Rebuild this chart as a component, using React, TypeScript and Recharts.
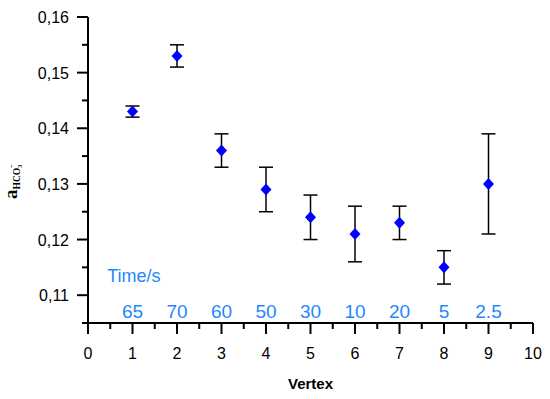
import React from "react";
import { ScatterChart, Scatter, XAxis, YAxis, ErrorBar } from "recharts";

const vertex = [1, 2, 3, 4, 5, 6, 7, 8, 9];
const aValues = [0.143, 0.153, 0.136, 0.129, 0.124, 0.121, 0.123, 0.115, 0.13];
const aErrors = [0.001, 0.002, 0.003, 0.004, 0.004, 0.005, 0.003, 0.003, 0.009];
const timeLabels = ["65", "70", "60", "50", "30", "10", "20", "5", "2.5"];
const timeLabelY = 0.1071;
const timeTitle = "Time/s";
const timeTitlePos = { x: 0.43, y: 0.1136 };
const xTicks = [0, 0.5, 1, 1.5, 2, 2.5, 3, 3.5, 4, 4.5, 5, 5.5, 6, 6.5, 7, 7.5, 8, 8.5, 9, 9.5, 10];
const yTicks = [0.105, 0.11, 0.115, 0.12, 0.125, 0.13, 0.135, 0.14, 0.145, 0.15, 0.155, 0.16];

const data = vertex.map((x, i) => ({ x, y: aValues[i], err: aErrors[i] }));
const timeData = vertex.map((x, i) => ({ x, y: timeLabelY, label: timeLabels[i] }));
const titleData = [{ x: timeTitlePos.x, y: timeTitlePos.y, label: timeTitle }];

const FONT = "'Liberation Sans', Arial, sans-serif";
const BLUE_TEXT = "#1E88FF";

const XTick = (props: any) => {
  const { x, y, payload } = props;
  const v = payload.value;
  const major = Math.abs(v - Math.round(v)) < 1e-6;
  return (
    <g>
      <line x1={x} y1={y} x2={x} y2={y + (major ? 11 : 6)} stroke="#000" strokeWidth={2} />
      {major && (
        <text x={x} y={y + 36} textAnchor="middle" fontSize={16} fontFamily={FONT} fill="#000">
          {String(v)}
        </text>
      )}
    </g>
  );
};

const YTick = (props: any) => {
  const { x, y, payload } = props;
  const v = payload.value;
  const major = Math.round(v * 1000) % 10 === 0;
  return (
    <g>
      <line x1={x} y1={y} x2={x - (major ? 11 : 6)} y2={y} stroke="#000" strokeWidth={2} />
      {major && (
        <text x={x - 19} y={y + 6} textAnchor="end" fontSize={16} fontFamily={FONT} fill="#000">
          {v.toFixed(2).replace(".", ",")}
        </text>
      )}
    </g>
  );
};

const Diamond = (props: any) => {
  const { cx, cy } = props;
  const w = 5.5;
  const h = 6;
  return <polygon points={`${cx},${cy - h} ${cx + w},${cy} ${cx},${cy + h} ${cx - w},${cy}`} fill="#0000FF" />;
};

const TimeText = (props: any) => {
  const { cx, cy, payload } = props;
  return (
    <text x={cx} y={cy + 7} textAnchor="middle" fontSize={19} fontFamily={FONT} fill={BLUE_TEXT}>
      {payload.label}
    </text>
  );
};

const TitleText = (props: any) => {
  const { cx, cy, payload } = props;
  return (
    <text x={cx} y={cy + 7} textAnchor="start" fontSize={18} fontFamily={FONT} fill={BLUE_TEXT}>
      {payload.label}
    </text>
  );
};

const YLabel = () => (
  <text
    x={17}
    y={199}
    transform="rotate(-90 17 199)"
    textAnchor="start"
    fontFamily="'Liberation Serif', 'Times New Roman', serif"
    fontWeight="bold"
    fill="#000"
  >
    <tspan fontSize={19}>a</tspan>
    <tspan fontSize={9.5} dy={3}>HCO</tspan>
    <tspan fontSize={6} dy={2}>3</tspan>
    <tspan fontSize={8} dy={-8} dx={-3}>-</tspan>
  </text>
);

export default function App() {
  return (
    <div style={{ position: "absolute", left: 0, top: 0, width: 550, height: 399, background: "#fff" }}>
      <ScatterChart width={550} height={399} margin={{ top: 17, right: 17, bottom: 0, left: 0 }}>
        <XAxis
          type="number"
          dataKey="x"
          domain={[0, 10]}
          ticks={xTicks}
          interval={0}
          tickSize={0}
          tickMargin={0}
          tickLine={false}
          tick={<XTick />}
          axisLine={{ stroke: "#000", strokeWidth: 2 }}
          height={76}
          allowDataOverflow
          label={{
            value: "Vertex",
            position: "insideBottom",
            offset: 10,
            fontSize: 15,
            fontWeight: "bold",
            fontFamily: FONT,
            fill: "#000",
          }}
        />
        <YAxis
          type="number"
          dataKey="y"
          domain={[0.105, 0.16]}
          ticks={yTicks}
          interval={0}
          tickSize={0}
          tickMargin={0}
          tickLine={false}
          tick={<YTick />}
          axisLine={{ stroke: "#000", strokeWidth: 2 }}
          width={88}
          allowDataOverflow
          label={<YLabel />}
        />
        <Scatter data={data} shape={<Diamond />} isAnimationActive={false}>
          <ErrorBar dataKey="err" direction="y" width={7} stroke="#000" strokeWidth={1.5} isAnimationActive={false} />
        </Scatter>
        <Scatter data={timeData} shape={<TimeText />} isAnimationActive={false} />
        <Scatter data={titleData} shape={<TitleText />} isAnimationActive={false} />
      </ScatterChart>
    </div>
  );
}
